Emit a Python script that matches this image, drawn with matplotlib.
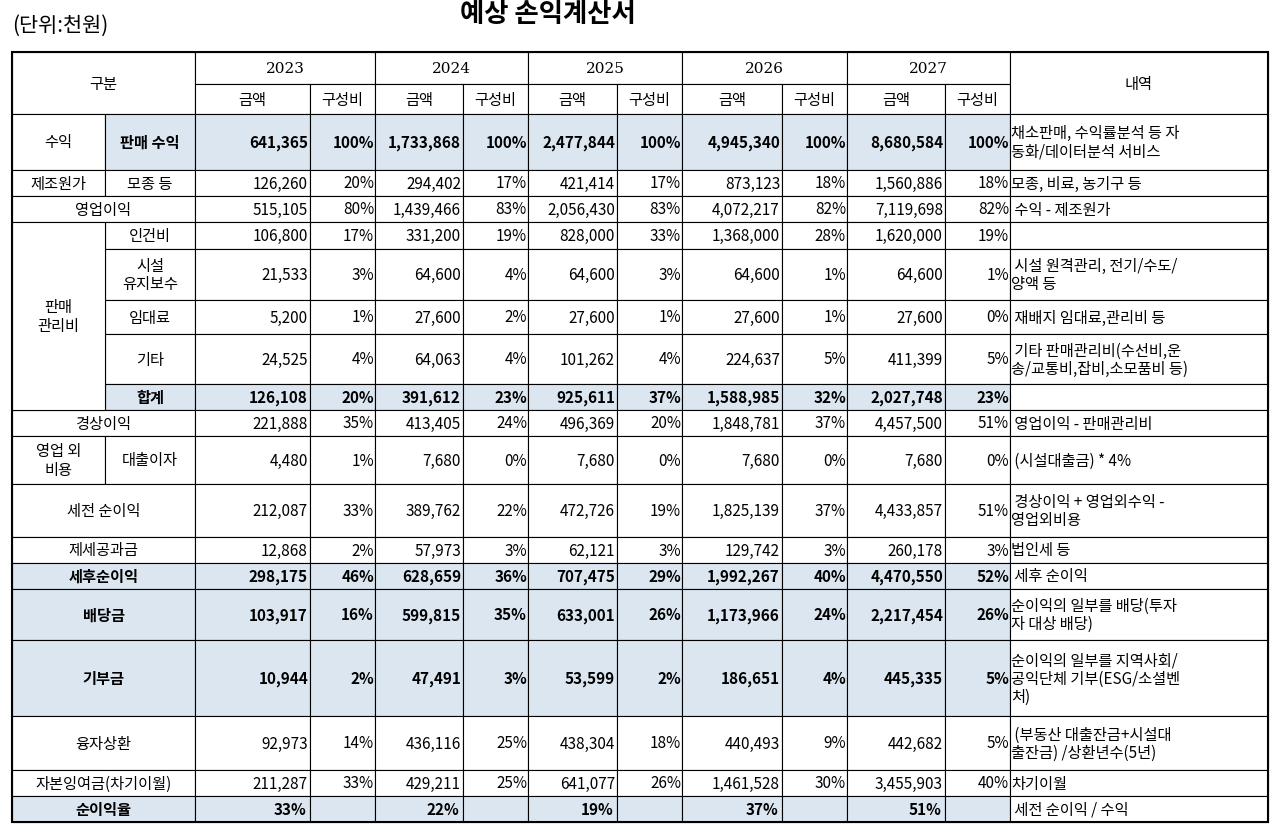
import matplotlib.pyplot as plt
from matplotlib.patches import Rectangle

plt.rcParams['font.family'] = ['Noto Sans CJK JP', 'Noto Sans CJK KR', 'Noto Sans CJK SC', 'DejaVu Sans']

years = ['2023', '2024', '2025', '2026', '2027']
amount_2023 = [641365, 126260, 515105, 106800, 21533, 5200, 24525, 126108, 221888, 4480, 212087, 12868, 298175, 103917, 10944, 92973, 211287]
amount_2024 = [1733868, 294402, 1439466, 331200, 64600, 27600, 64063, 391612, 413405, 7680, 389762, 57973, 628659, 599815, 47491, 436116, 429211]
amount_2025 = [2477844, 421414, 2056430, 828000, 64600, 27600, 101262, 925611, 496369, 7680, 472726, 62121, 707475, 633001, 53599, 438304, 641077]
amount_2026 = [4945340, 873123, 4072217, 1368000, 64600, 27600, 224637, 1588985, 1848781, 7680, 1825139, 129742, 1992267, 1173966, 186651, 440493, 1461528]
amount_2027 = [8680584, 1560886, 7119698, 1620000, 64600, 27600, 411399, 2027748, 4457500, 7680, 4433857, 260178, 4470550, 2217454, 445335, 442682, 3455903]
ratio_2023 = [100, 20, 80, 17, 3, 1, 4, 20, 35, 1, 33, 2, 46, 16, 2, 14, 33]
ratio_2024 = [100, 17, 83, 19, 4, 2, 4, 23, 24, 0, 22, 3, 36, 35, 3, 25, 25]
ratio_2025 = [100, 17, 83, 33, 3, 1, 4, 37, 20, 0, 19, 3, 29, 26, 2, 18, 26]
ratio_2026 = [100, 18, 82, 28, 1, 1, 5, 32, 37, 0, 37, 3, 40, 24, 4, 9, 30]
ratio_2027 = [100, 18, 82, 19, 1, 0, 5, 23, 51, 0, 51, 3, 52, 26, 5, 5, 40]
net_margin = [33, 22, 19, 37, 51]
notes = ['채소판매, 수익률분석 등 자\n동화/데이터분석 서비스', '모종, 비료, 농기구 등', ' 수익 - 제조원가', '',
         ' 시설 원격관리, 전기/수도/\n양액 등', ' 재배지 임대료,관리비 등', ' 기타 판매관리비(수선비,운\n송/교통비,잡비,소모품비 등)', '',
         ' 영업이익 - 판매관리비', ' (시설대출금) * 4%', ' 경상이익 + 영업외수익 -\n영업외비용', '법인세 등', ' 세후 순이익',
         '순이익의 일부를 배당(투자\n자 대상 배당)', '순이익의 일부를 지역사회/\n공익단체 기부(ESG/소셜벤\n처)',
         ' (부동산 대출잔금+시설대\n출잔금) /상환년수(5년)', '차기이월', ' 세전 순이익 / 수익']

amounts = [amount_2023, amount_2024, amount_2025, amount_2026, amount_2027]
ratios = [ratio_2023, ratio_2024, ratio_2025, ratio_2026, ratio_2027]

# layout (pixels)
xs = [12, 105, 195, 310, 375, 463, 528, 617, 682, 782, 847, 945, 1010, 1268]
ys = [114, 170, 196, 222, 249, 300, 334, 384, 410, 436, 484, 537, 563, 589, 640, 716, 770, 796, 822]
blue = '#dce6f1'
bold_rows = {0, 7, 12, 13, 14, 17}
fs = 11

fig = plt.figure(figsize=(12.8, 8.31), dpi=100)
ax = fig.add_axes([0, 0, 1, 1])
ax.set_xlim(0, 1280)
ax.set_ylim(831, 0)
ax.axis('off')

def cell(x0, x1, y0, y1, text='', ha='center', fill='white', bold=False, pad=4, family=None):
    ax.add_patch(Rectangle((x0, y0), x1 - x0, y1 - y0, facecolor=fill, edgecolor='black', lw=0.8))
    if text == '':
        return
    if ha == 'center':
        tx = (x0 + x1) / 2
    elif ha == 'right':
        tx = x1 - pad
    else:
        tx = x0 + pad
    kw = {'family': family} if family else {}
    ax.text(tx, (y0 + y1) / 2 + 1, text, ha=ha, va='center', fontsize=fs,
            fontweight='bold' if bold else 'normal', linespacing=1.1,
            multialignment='left' if ha == 'left' else 'center', **kw)

ax.text(12, 26, '(단위:천원)', fontsize=15, va='center')
ax.text(548, 15, '예상 손익계산서', fontsize=19, fontweight='bold', ha='center', va='center')

# header
cell(xs[0], xs[2], 52, 114, '구분')
for i, yr in enumerate(years):
    a, r, e = xs[2 + 2 * i], xs[3 + 2 * i], xs[4 + 2 * i]
    cell(a, e, 52, 84, yr, family='DejaVu Serif')
    cell(a, r, 84, 114, '금액')
    cell(r, e, 84, 114, '구성비')
cell(xs[12], xs[13], 52, 114, '내역')

# left labels
left = {0: ('수익', '판매 수익'), 1: ('제조원가', '모종 등'), 3: (None, '인건비'), 4: (None, '시설\n유지보수'),
        5: (None, '임대료'), 6: (None, '기타'), 7: (None, '합계'), 9: ('영업 외\n비용', '대출이자')}
merged = {2: '영업이익', 8: '경상이익', 10: '세전 순이익', 11: '제세공과금', 12: '세후순이익',
          13: '배당금', 14: '기부금', 15: '융자상환', 16: '자본잉여금(차기이월)', 17: '순이익율'}

for r in range(18):
    y0, y1 = ys[r], ys[r + 1]
    b = r in bold_rows
    f = blue if b else 'white'
    if r in merged:
        cell(xs[0], xs[2], y0, y1, merged[r], fill=f, bold=b)
    else:
        c1, c2 = left[r]
        if c1 is not None:
            cell(xs[0], xs[1], y0, y1, c1)
        cell(xs[1], xs[2], y0, y1, c2, fill=f, bold=b)
    for i in range(5):
        a, m, e = xs[2 + 2 * i], xs[3 + 2 * i], xs[4 + 2 * i]
        if r == 17:
            cell(a, m, y0, y1, f'{net_margin[i]}%', ha='right', fill=f, bold=True)
            cell(m, e, y0, y1, '', fill=f)
        else:
            cell(a, m, y0, y1, f'{amounts[i][r]:,}', ha='right', fill=f, bold=b, pad=2)
            cell(m, e, y0, y1, f'{ratios[i][r]}%', ha='right', fill=f, bold=b, pad=1)
    cell(xs[12], xs[13], y0, y1, notes[r], ha='left', pad=1)

cell(xs[0], xs[1], ys[3], ys[8], '판매\n관리비')
ax.add_patch(Rectangle((xs[0], 52), xs[-1] - xs[0], ys[-1] - 52, fill=False, edgecolor='black', lw=1.5))

fig.savefig('out.png', dpi=100)
